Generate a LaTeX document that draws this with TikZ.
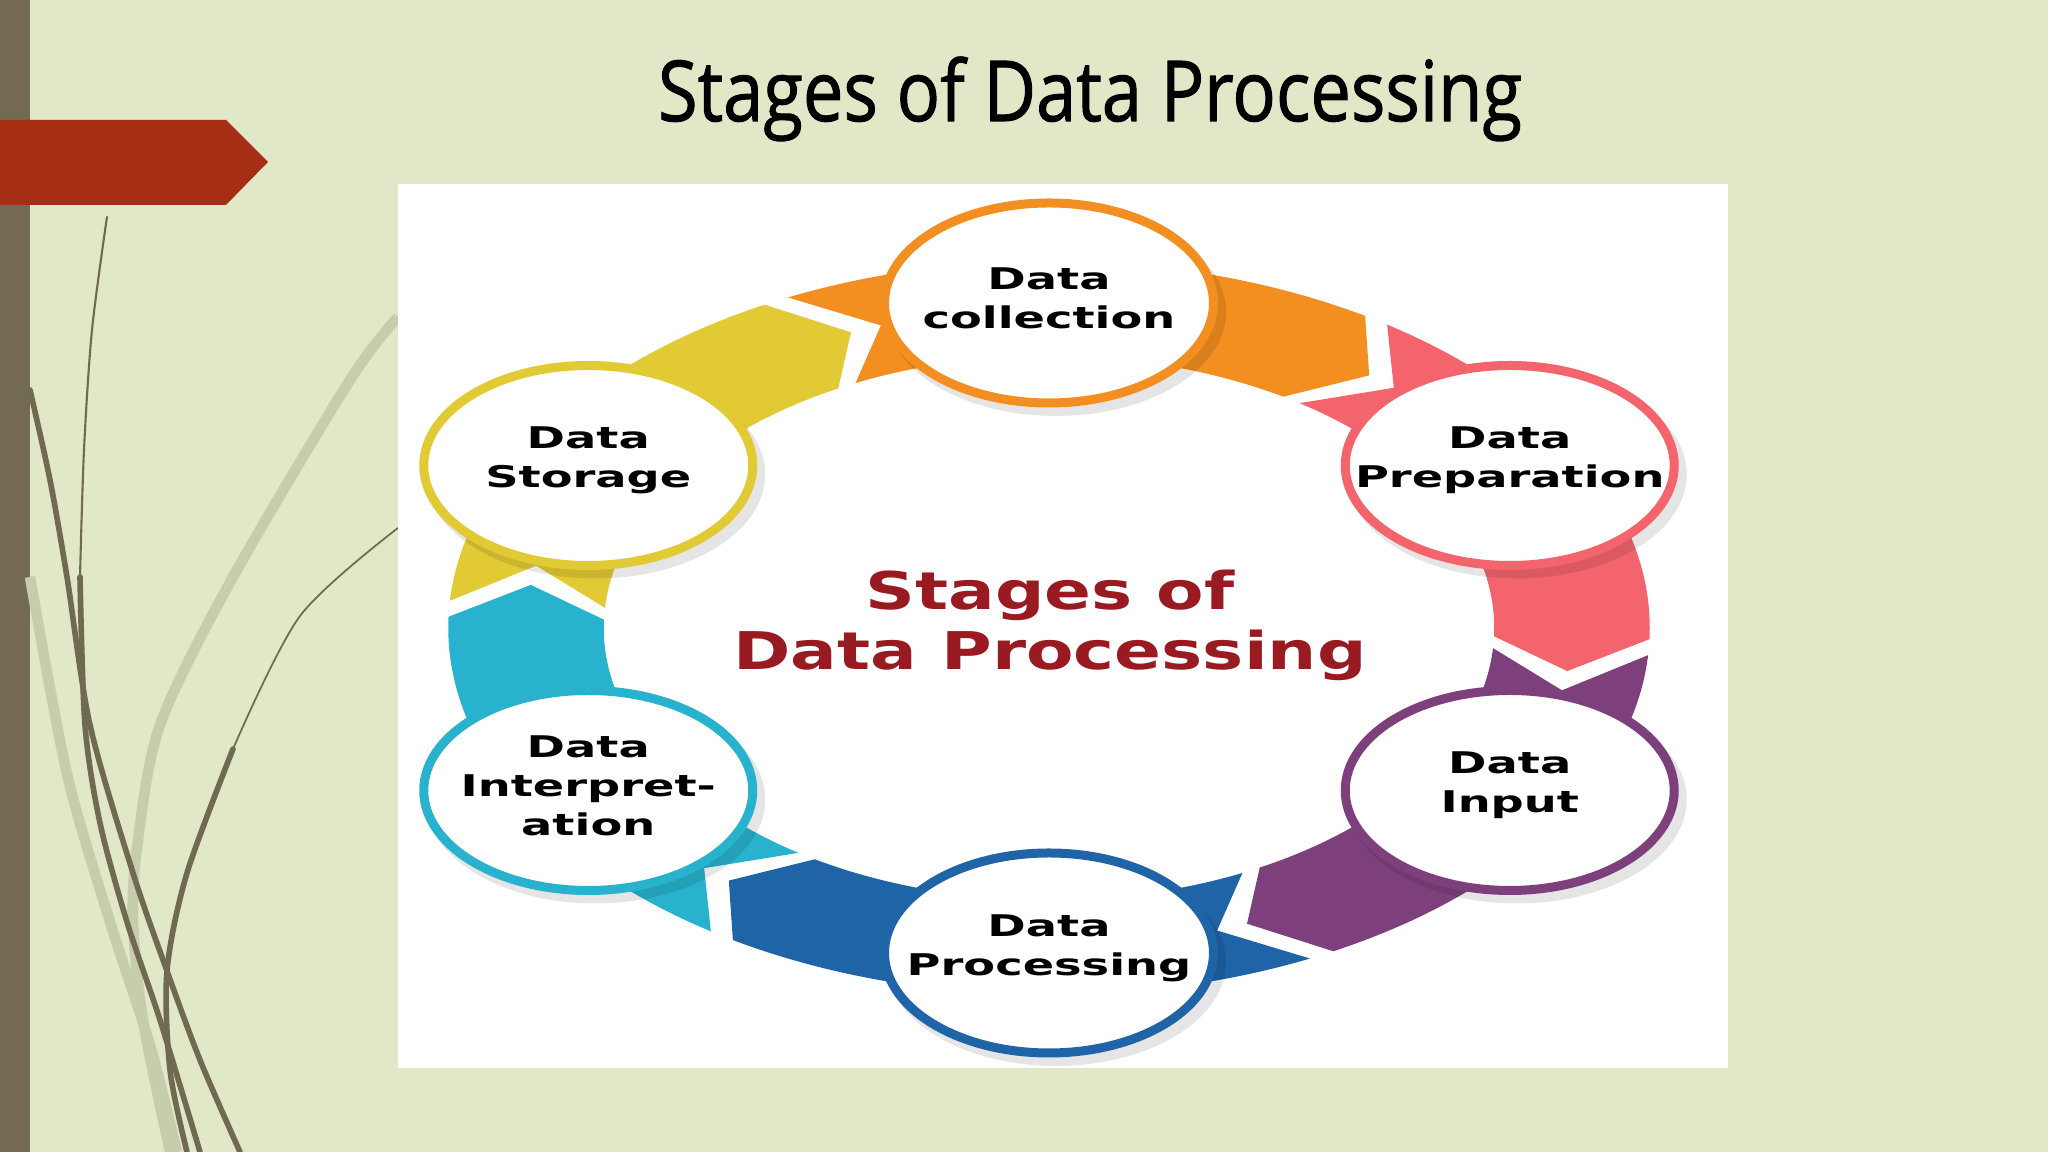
\documentclass[tikz,border=0pt]{standalone}
\usepackage{fontspec}
\setmainfont{Open Sans}
\newfontfamily\stagefont{DejaVu Sans}
\newfontfamily\slidetitlefont[FakeBold=1.3]{Open Sans}
\usetikzlibrary{calc}

\definecolor{slidegreen}{RGB}{224,232,199}
\definecolor{slidelight}{RGB}{242,245,231}
\definecolor{slideolive}{RGB}{114,107,81}
\definecolor{slidered}{RGB}{165,46,20}
\definecolor{curvedark}{RGB}{112,106,80}
\definecolor{curvepale}{RGB}{198,205,172}
\definecolor{collectorange}{RGB}{242,143,32}
\definecolor{preppink}{RGB}{244,100,108}
\definecolor{inputpurple}{RGB}{126,64,124}
\definecolor{procblue}{RGB}{30,100,166}
\definecolor{interpcyan}{RGB}{40,178,206}
\definecolor{storeyellow}{RGB}{226,202,52}
\definecolor{titlemaroon}{RGB}{154,26,34}

\tikzset{
  stagetext/.style={font=\stagefont\bfseries\fontsize{8.5}{11.1}\selectfont, align=center, xscale=1.55, inner sep=0pt, yshift=0.05cm},
  ringtitle/.style={font=\stagefont\bfseries\fontsize{14.8}{17.1}\selectfont, text=titlemaroon, align=center, xscale=1.33},
  curve/.style={curvedark, line cap=round},
}

\begin{document}
\begin{tikzpicture}
    % Slide background
    \shade[left color=slidegreen, middle color=slidelight, right color=slidegreen] (0,0) rectangle (20.48,11.52);
    \useasboundingbox (0,0) rectangle (20.48,11.52);
    \fill[slideolive] (0,0) rectangle (0.30,11.52);

    % Decorative curves
    \draw[curvepale, line width=3pt] plot[smooth] coordinates {(3.98,8.35) (3.50,7.72) (2.33,5.75) (1.60,4.27) (1.37,3.04) (1.33,2.30) (1.43,1.32) (1.70,0)};
    \draw[curvepale, line width=3pt] plot[smooth] coordinates {(0.30,5.75) (0.67,3.78) (1.10,2.30) (1.50,1.07) (1.77,0)};
    \draw[curve, line width=0.6pt] plot[smooth] coordinates {(1.07,9.35) (0.92,8.22) (0.84,7.02) (0.80,5.75)};
    \draw[curve, line width=1.6pt] plot[smooth] coordinates {(0.80,5.75) (0.85,4.27) (1.00,3.29) (1.27,2.30) (1.60,1.32) (2.00,0)};
    \draw[curve, line width=1.6pt] plot[smooth] coordinates {(0.30,7.62) (0.50,6.72) (0.67,5.75) (0.90,4.27) (1.33,2.79) (1.67,1.81) (2.00,0.92) (2.40,0)};
    \draw[curve, line width=0.5pt] plot[smooth] coordinates {(3.98,6.24) (3.00,5.36) (2.33,4.03)};
    \draw[curve, line width=1.6pt] plot[smooth] coordinates {(2.33,4.03) (1.87,2.79) (1.67,1.81) (1.70,0.82) (1.87,0)};

    % Red tab
    \fill[slidered] (0,10.32) -- (2.26,10.32) -- (2.68,9.90) -- (2.26,9.47) -- (0,9.47) -- cycle;

    % Title
    \node[font=\slidetitlefont\fontsize{23.9}{28}\selectfont, anchor=base, xscale=0.86] (title) at (10.90,10.31) {Stages of Data Processing};

    % Picture panel
    \fill[white] (3.98,0.84) rectangle (17.28,9.68);

    % Ring of arrows
    \coordinate (ctr) at (10.49,5.24);
    \begin{scope}[shift={(ctr)}, xscale=1.637]
      \foreach \ang/\col/\nm in {90/collectorange/collect, 30/preppink/prep, -30/inputpurple/input,
                                 -90/procblue/proc, -150/interpcyan/interp, 150/storeyellow/store} {
        \pgfmathsetmacro{\sa}{\ang+27-1.25}
        \pgfmathsetmacro{\ea}{\ang-33+1.25}
        \fill[\col] (\sa:3.67) arc[start angle=\sa, end angle=\ea, radius=3.67]
            -- (\ea-6:3.195) -- (\ea:2.72) arc[start angle=\ea, end angle=\sa, radius=2.72]
            -- (\sa-7:3.195) -- cycle;
        \coordinate (\nm) at (\ang:3.25);
      }
    \end{scope}

    % Stage circles
    \foreach \nm/\col/\txt in {collect/collectorange/{Data\\collection}, prep/preppink/{Data\\Preparation},
                               input/inputpurple/{Data\\Input}, proc/procblue/{Data\\Processing},
                               interp/interpcyan/{Data\\Interpret-\\ation}, store/storeyellow/{Data\\Storage}} {
      \fill[black, opacity=0.10] ($(\nm)+(0.07,-0.09)$) ellipse [x radius=1.70, y radius=1.04];
      \draw[\col, line width=0.09cm, fill=white] (\nm) ellipse [x radius=1.645, y radius=1.0];
      \node[stagetext] (\nm-txt) at (\nm) {\txt};
    }

    % Centre label
    \node[ringtitle] (ringlabel) at (10.50,5.27) {Stages of\\Data Processing};
\end{tikzpicture}
\end{document}
